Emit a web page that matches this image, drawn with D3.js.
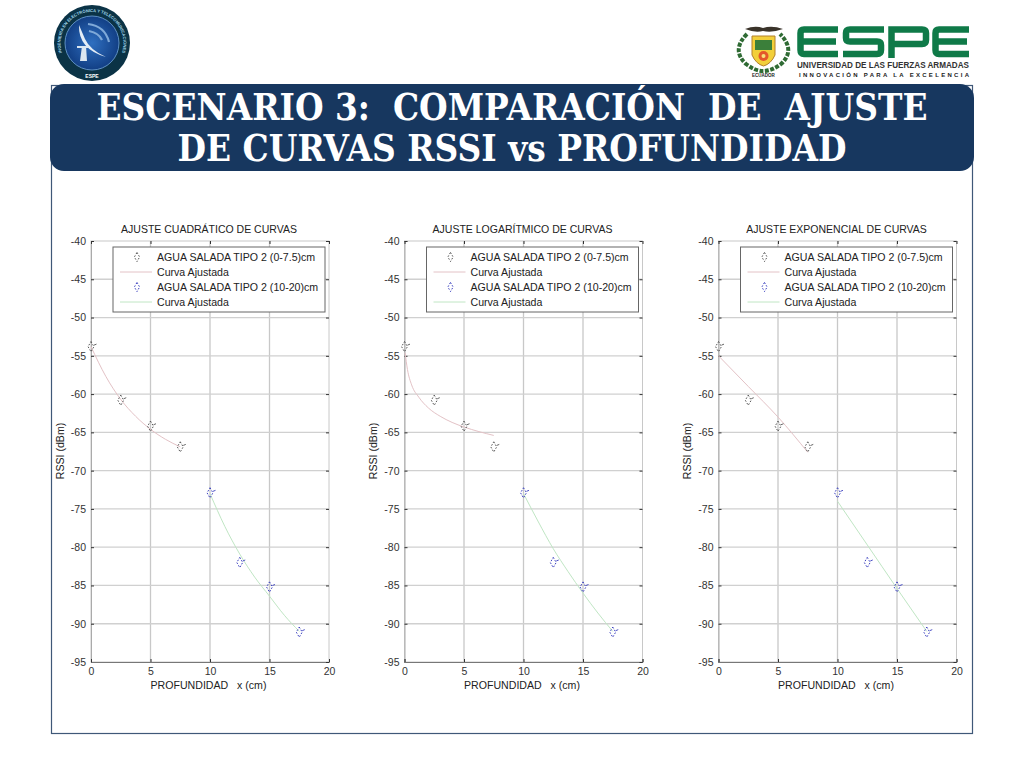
<!DOCTYPE html>
<html>
<head>
<meta charset="utf-8">
<script src="https://cdn.jsdelivr.net/npm/d3@7"></script>
<style>
  html, body { margin: 0; padding: 0; background: #fff; }
  svg { display: block; }
  text { font-family: "Liberation Sans", sans-serif; fill: #222; }
</style>
</head>
<body>
<script>
// measured points, same in all three panels
var depthShallow = [0, 2.5, 5, 7.5];
var rssiShallow = [-53.8, -60.8, -64.2, -66.9];
var depthDeep = [10, 12.5, 15, 17.5];
var rssiDeep = [-72.9, -82.0, -85.2, -91.1];

// fitted curves
var quadShallowX = [0, 1.25, 2.5, 3.75, 5, 6.25, 7.5];
var quadShallowY = [-53.8, -57.7, -60.7, -62.9, -64.6, -65.9, -66.9];
var quadDeepX = [10, 11.25, 12.5, 13.75, 15, 16.25, 17.5];
var quadDeepY = [-73.0, -77.3, -80.9, -83.9, -86.4, -88.9, -91.0];

var logShallowX = [0.05, 0.25, 0.6, 1.2, 2, 3, 4, 5, 6.25, 7.5];
var logShallowY = [-54.6, -56.8, -58.8, -60.4, -61.8, -62.9, -63.7, -64.3, -64.9, -65.4];
var logDeepX = [10, 11.25, 12.5, 13.75, 15, 16.25, 17.5];
var logDeepY = [-73.0, -76.7, -80.2, -83.2, -86.0, -88.6, -91.0];

var expShallowX = [0, 2.5, 5, 7.5];
var expShallowY = [-55.0, -59.0, -63.0, -67.6];
var expDeepX = [10, 12.5, 15, 17.5];
var expDeepY = [-74.0, -79.7, -85.4, -91.0];

var panelTitles = ["AJUSTE CUADRÁTICO DE CURVAS", "AJUSTE LOGARÍTMICO DE CURVAS", "AJUSTE EXPONENCIAL DE CURVAS"];
var panelLefts = [91, 404.5, 718.5];
var fitsShallow = [[quadShallowX, quadShallowY], [logShallowX, logShallowY], [expShallowX, expShallowY]];
var fitsDeep = [[quadDeepX, quadDeepY], [logDeepX, logDeepY], [expDeepX, expDeepY]];
var xTicks = [0, 5, 10, 15, 20];
var yTicks = [-40, -45, -50, -55, -60, -65, -70, -75, -80, -85, -90, -95];
var legendLabels = ["AGUA SALADA TIPO 2 (0-7.5)cm", "Curva Ajustada", "AGUA SALADA TIPO 2 (10-20)cm", "Curva Ajustada"];
var titleLines = ["ESCENARIO 3:  COMPARACIÓN  DE  AJUSTE", "DE CURVAS RSSI vs PROFUNDIDAD"];
var titleWidths = [831, 669];

var w = 1024, h = 768;
var plotW = 238, plotTop = 241, plotBottom = 662;

var svg = d3.select("body").append("svg")
    .attr("width", w)
    .attr("height", h);

// slide frame and banner
svg.append("rect")
    .attr("x", 51.5).attr("y", 85.5)
    .attr("width", 921).attr("height", 648)
    .attr("fill", "#fff")
    .attr("stroke", "#3f5878")
    .attr("stroke-width", 1.2);

svg.append("rect")
    .attr("x", 50).attr("y", 84)
    .attr("width", 924).attr("height", 87)
    .attr("rx", 14)
    .attr("fill", "#17375f");

// title font is wider than the original, so squeeze it horizontally to fit
svg.selectAll(".bannerTitle")
    .data(titleLines)
    .enter()
    .append("text")
    .attr("class", "bannerTitle")
    .attr("text-anchor", "middle")
    .style("font-family", "'DejaVu Serif', serif")
    .style("font-weight", "bold")
    .style("font-size", "37px")
    .style("white-space", "pre")
    .style("fill", "#fff")
    .text(function(d) { return d; })
    .attr("transform", function(d, i) {
        var sx = titleWidths[i] / this.getComputedTextLength();
        return "translate(512," + (120 + i * 41) + ") scale(" + sx + ",1)";
    });

drawBadge();
drawEspeLogo();

panelTitles.forEach(function(title, i) {
    drawPanel(i, title);
});

function drawPanel(i, title) {
    var left = panelLefts[i];
    var x = d3.scaleLinear().domain([0, 20]).range([left, left + plotW]);
    var y = d3.scaleLinear().domain([-95, -40]).range([plotBottom, plotTop]);
    var g = svg.append("g").attr("class", "panel");

    // grid
    g.selectAll(".gridX")
        .data(xTicks.slice(1, -1))
        .enter()
        .append("line")
        .attr("x1", function(d) { return x(d); })
        .attr("x2", function(d) { return x(d); })
        .attr("y1", plotTop).attr("y2", plotBottom)
        .attr("stroke", "#c8c8c8").attr("stroke-width", 1.3);

    g.selectAll(".gridY")
        .data(yTicks.slice(1, -1))
        .enter()
        .append("line")
        .attr("x1", left).attr("x2", left + plotW)
        .attr("y1", function(d) { return y(d); })
        .attr("y2", function(d) { return y(d); })
        .attr("stroke", "#d0d0d0").attr("stroke-width", 1.3);

    // box
    g.append("rect")
        .attr("x", left).attr("y", plotTop)
        .attr("width", plotW).attr("height", plotBottom - plotTop)
        .attr("fill", "none")
        .attr("stroke", "#c8c8c8");

    // matlab style hyphen minus on the labels
    var yAxis = d3.axisLeft(y).tickValues(yTicks).tickSize(-3).tickPadding(5).tickFormat(function(d) { return String(d); });
    var xAxis = d3.axisBottom(x).tickValues(xTicks).tickSize(-3).tickPadding(6);

    var yG = g.append("g").attr("transform", "translate(" + left + ",0)").call(yAxis);
    var xG = g.append("g").attr("transform", "translate(0," + plotBottom + ")").call(xAxis);
    [yG, xG].forEach(function(a) {
        a.selectAll("text").style("font-size", "10.5px").style("font-family", "'Liberation Sans', sans-serif").style("fill", "#333");
        a.selectAll("line").attr("stroke", "#333");
    });
    yG.select(".domain").attr("stroke", "#aaa");
    xG.select(".domain").attr("stroke", "#777");

    // ticks on the top and right sides
    var yRight = d3.axisRight(y).tickValues(yTicks).tickSize(-3).tickFormat("");
    var xTop = d3.axisTop(x).tickValues(xTicks).tickSize(-3).tickFormat("");
    var rG = g.append("g").attr("transform", "translate(" + (left + plotW) + ",0)").call(yRight);
    var tG = g.append("g").attr("transform", "translate(0," + plotTop + ")").call(xTop);
    [rG, tG].forEach(function(a) {
        a.select(".domain").attr("stroke", "none");
        a.selectAll("line").attr("stroke", "#333");
    });

    // fitted curves
    var line = d3.line()
        .x(function(d) { return x(d[0]); })
        .y(function(d) { return y(d[1]); })
        .curve(d3.curveMonotoneX);

    g.append("path")
        .datum(d3.zip(fitsShallow[i][0], fitsShallow[i][1]))
        .attr("d", line)
        .attr("fill", "none")
        .attr("stroke", "#e3c2c6");

    g.append("path")
        .datum(d3.zip(fitsDeep[i][0], fitsDeep[i][1]))
        .attr("d", line)
        .attr("fill", "none")
        .attr("stroke", "#c0e6c4");

    drawMarkers(g, d3.zip(depthShallow, rssiShallow), x, y, "#555");
    drawMarkers(g, d3.zip(depthDeep, rssiDeep), x, y, "#3a40c0");

    // labels
    g.append("text")
        .attr("x", x(10) - 1).attr("y", 233)
        .attr("text-anchor", "middle")
        .style("font-size", "10.5px")
        .text(title);

    g.append("text")
        .attr("x", x(10) - 1.5).attr("y", 689)
        .attr("text-anchor", "middle")
        .style("font-size", "10.6px")
        .style("white-space", "pre")
        .text("PROFUNDIDAD   x (cm)");

    g.append("text")
        .attr("transform", "translate(" + (left - 27.5) + ",451) rotate(-90)")
        .attr("text-anchor", "middle")
        .style("font-size", "10.6px")
        .text("RSSI (dBm)");

    drawLegend(g, left);
}

function drawMarkers(g, pts, x, y, color) {
    var sym = d3.symbol().type(d3.symbolDiamond).size(30);
    var cls = "marker" + color.slice(1);
    var m = g.selectAll("." + cls)
        .data(pts)
        .enter()
        .append("g")
        .attr("class", cls)
        .attr("transform", function(d) { return "translate(" + x(d[0]) + "," + y(d[1]) + ")"; });
    m.append("path")
        .attr("d", sym)
        .attr("fill", "none")
        .attr("stroke", color)
        .attr("stroke-width", 1)
        .attr("stroke-dasharray", "1.6 1.6");
    // little side tick the markers show
    m.append("line")
        .attr("x1", 3).attr("x2", 5.5)
        .attr("y1", -1.5).attr("y2", -2.5)
        .attr("stroke", color)
        .attr("stroke-width", 0.9);
}

function drawLegend(g, left) {
    var lx = left + 22;
    var lg = g.append("g").attr("class", "legend");

    lg.append("rect")
        .attr("x", lx).attr("y", 247)
        .attr("width", 212).attr("height", 65)
        .attr("fill", "#fff")
        .attr("stroke", "#666");

    lg.selectAll("text")
        .data(legendLabels)
        .enter()
        .append("text")
        .attr("x", lx + 44)
        .attr("y", function(d, i) { return 261 + i * 15; })
        .style("font-size", "10.6px")
        .text(function(d) { return d; });

    var sym = d3.symbol().type(d3.symbolDiamond).size(24);
    [["#555", 0], ["#3a40c0", 2]].forEach(function(m) {
        lg.append("path")
            .attr("d", sym)
            .attr("transform", "translate(" + (lx + 24) + "," + (257 + m[1] * 15) + ")")
            .attr("fill", "none")
            .attr("stroke", m[0])
            .attr("stroke-dasharray", "1.6 1.6");
    });
    [["#e3c2c6", 1], ["#c0e6c4", 3]].forEach(function(m) {
        lg.append("line")
            .attr("x1", lx + 7).attr("x2", lx + 39)
            .attr("y1", 257 + m[1] * 15).attr("y2", 257 + m[1] * 15)
            .attr("stroke", m[0]);
    });
}

// round department badge, top left
function drawBadge() {
    var b = svg.append("g").attr("transform", "translate(92,43)");
    var grad = svg.append("defs").append("radialGradient").attr("id", "badgeBlue");
    grad.append("stop").attr("offset", "0%").attr("stop-color", "#2f6fc0");
    grad.append("stop").attr("offset", "100%").attr("stop-color", "#123f85");

    b.append("circle").attr("r", 38).attr("fill", "#0b3346");
    b.append("circle").attr("r", 27).attr("fill", "url(#badgeBlue)").attr("stroke", "#5d8fc4");
    b.append("path").attr("id", "badgeArc").attr("d", "M-30,10 A31.5,31.5 0 1 1 30,10").attr("fill", "none");
    b.append("text")
        .style("font-size", "4.2px")
        .style("font-weight", "bold")
        .style("fill", "#9fd3ea")
        .append("textPath")
        .attr("href", "#badgeArc")
        .attr("startOffset", "50%")
        .attr("text-anchor", "middle")
        .text("INGENIERÍA EN ELECTRÓNICA Y TELECOMUNICACIONES");
    b.append("path")
        .attr("d", "M-13,-18 Q-14,6 14,14 Q-2,7 -7,-4 Z")
        .attr("fill", "#e4edf6");
    b.append("path")
        .attr("d", "M-10,3 L-6,3 L-5,18 L-12,18 Z M-15,3 L-3,3 L-3,5 L-15,5 Z")
        .attr("fill", "#dbe6f1");
    b.append("path")
        .attr("d", "M-4,-19 Q13,-17 17,-1 M-3,-12 Q7,-10 10,-3")
        .attr("fill", "none")
        .attr("stroke", "#7fa9d8")
        .attr("stroke-width", 2.2);
    b.append("text")
        .attr("y", 35)
        .attr("text-anchor", "middle")
        .style("font-size", "5px")
        .style("font-weight", "bold")
        .style("fill", "#fff")
        .text("ESPE");
}

// university logo, top right
function drawEspeLogo() {
    var l = svg.append("g");

    // crest
    l.append("path")
        .attr("d", "M747,34 Q731,50 746,64 Q755,71 763,71 Q772,71 781,64 Q796,50 780,34")
        .attr("fill", "none")
        .attr("stroke", "#2f6b34")
        .attr("stroke-width", 4)
        .attr("stroke-dasharray", "4 1.5");
    l.append("path")
        .attr("d", "M752,36 L775,36 L775,55 Q771,64 763.5,66 Q756,64 752,55 Z")
        .attr("fill", "#f2cf3a")
        .attr("stroke", "#b2802a");
    l.append("rect").attr("x", 755).attr("y", 40).attr("width", 17).attr("height", 10).attr("fill", "#3b7f3a");
    l.append("circle").attr("cx", 763.5).attr("cy", 56).attr("r", 5).attr("fill", "#e4572a");
    l.append("circle").attr("cx", 763.5).attr("cy", 56).attr("r", 2).attr("fill", "#f7e27a");
    l.append("path")
        .attr("d", "M745,29 Q755,25 763,28 Q772,25 783,29 Q772,33 763,31 Q755,33 745,29 Z")
        .attr("fill", "#3a332a");
    l.append("text")
        .attr("x", 763.5).attr("y", 77)
        .attr("text-anchor", "middle")
        .style("font-size", "4.5px")
        .style("font-weight", "bold")
        .text("ECUADOR");

    // block letters ESPE
    var letters = l.append("g")
        .attr("fill", "none")
        .attr("stroke", "#0f7a48")
        .attr("stroke-width", 6.5);
    letters.append("path").attr("d", "M838,29.5 L804,29.5 Q800.5,29.5 800.5,33 L800.5,50 Q800.5,54 804,54 L838,54 M800.5,41.5 L836,41.5");
    letters.append("path").attr("d", "M884,29.5 L850,29.5 Q846,29.5 846,33 L846,38 Q846,41.5 850,41.5 L877,41.5 Q881,41.5 881,45 L881,50 Q881,54 877,54 L843,54");
    letters.append("path").attr("d", "M891.5,58 L891.5,29.5 L922,29.5 Q926,29.5 926,33 L926,40 Q926,44 922,44 L891.5,44");
    letters.append("path").attr("d", "M969,29.5 L939,29.5 Q935.5,29.5 935.5,33 L935.5,50 Q935.5,54 939,54 L969,54 M935.5,41.5 L967,41.5");

    l.append("text")
        .attr("x", 797).attr("y", 68)
        .attr("textLength", 172)
        .attr("lengthAdjust", "spacingAndGlyphs")
        .style("font-size", "8.5px")
        .style("font-weight", "bold")
        .style("fill", "#333")
        .text("UNIVERSIDAD DE LAS FUERZAS ARMADAS");
    l.append("text")
        .attr("x", 799).attr("y", 77)
        .attr("textLength", 170)
        .style("font-size", "6px")
        .style("font-weight", "bold")
        .style("fill", "#222")
        .text("INNOVACIÓN PARA LA EXCELENCIA");
}
</script>
</body>
</html>
